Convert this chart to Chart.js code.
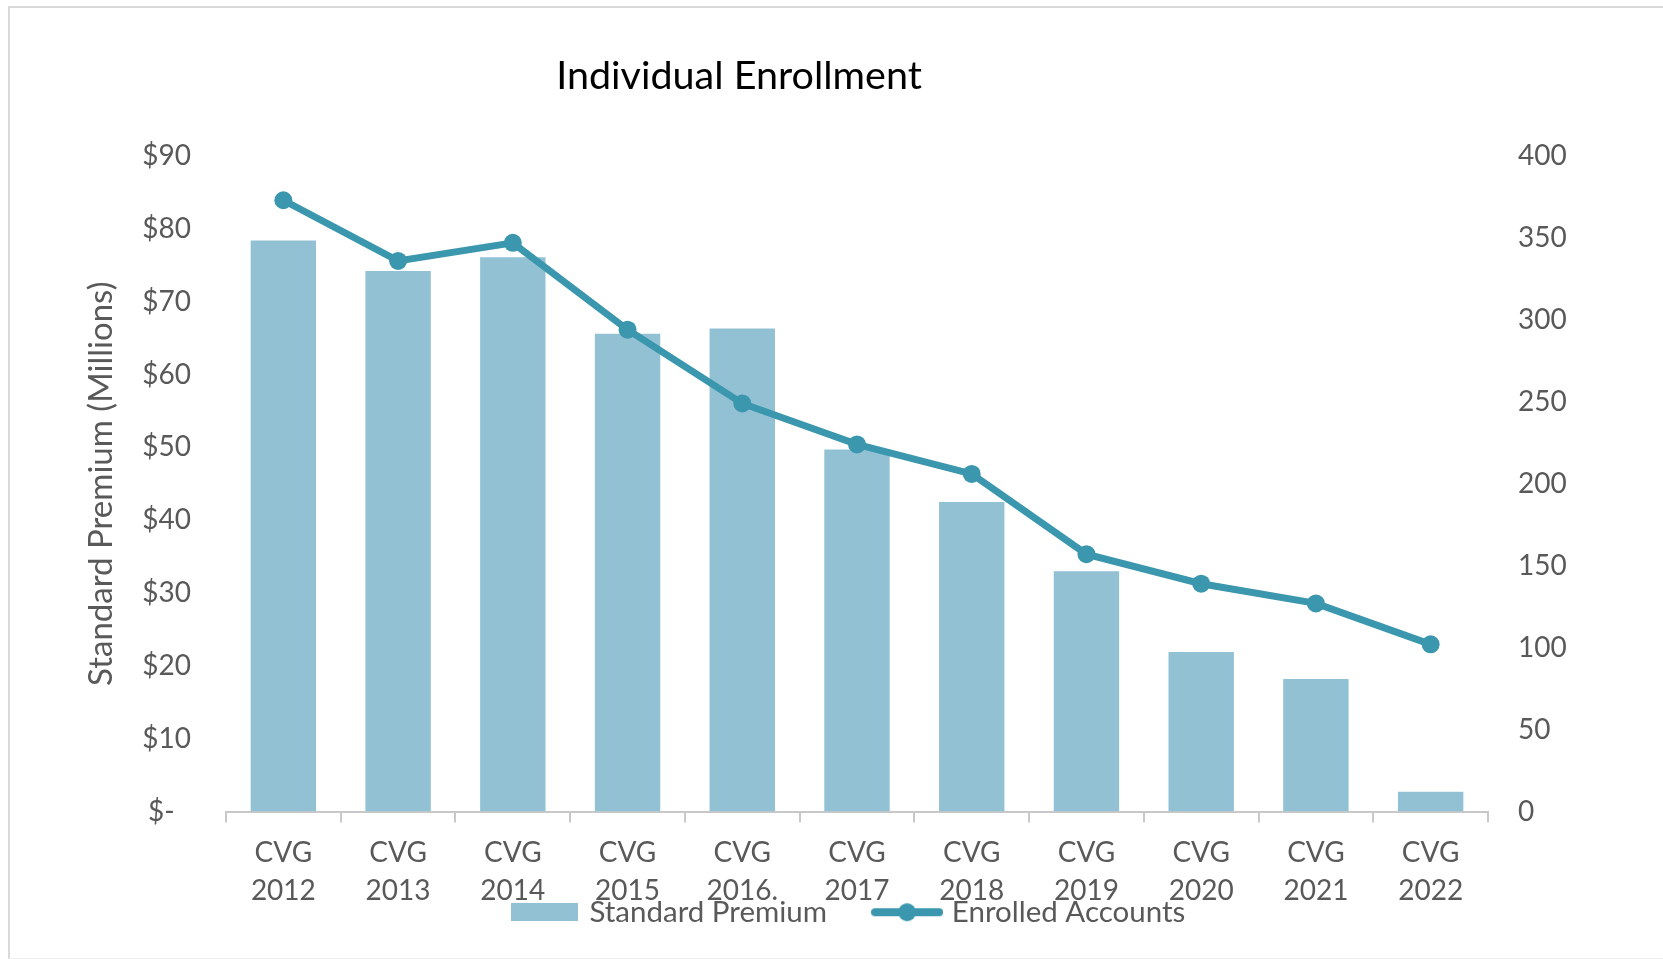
<!DOCTYPE html>
<html>
<head>
<meta charset="utf-8">
<title>Individual Enrollment</title>
<script src="https://cdn.jsdelivr.net/npm/chart.js@4.4.1/dist/chart.umd.min.js"></script>
<style>
  html, body { margin: 0; padding: 0; background: #fff; }
  #frame {
    position: absolute; left: 8px; top: 6px; width: 1700px; height: 950px;
    border-top: 2px solid #d9d9d9; border-left: 2px solid #d9d9d9; border-bottom: 1px solid #eeeeee;
  }
  #title {
    position: absolute; left: 439px; top: 51px; width: 600px; line-height: 46px;
    text-align: center; font-family: Lato, "Open Sans", sans-serif; font-size: 39.5px; color: #000;
    z-index: 2;
  }
  #wrap { position: absolute; left: 0; top: 0; width: 1663px; height: 959px; z-index: 1; }
</style>
</head>
<body>
<div id="frame"></div>
<div id="title">Individual Enrollment</div>
<div id="wrap"><canvas id="enrollChart"></canvas></div>
<script>
// chart values
var categories = [
    ['CVG', '2012'], ['CVG', '2013'], ['CVG', '2014'], ['CVG', '2015'], ['CVG', '2016.'],
    ['CVG', '2017'], ['CVG', '2018'], ['CVG', '2019'], ['CVG', '2020'], ['CVG', '2021'], ['CVG', '2022']
];
var standardPremium = [78.4, 74.2, 76.1, 65.6, 66.3, 49.7, 42.5, 33.0, 21.9, 18.2, 2.7];
var enrolledAccounts = [373, 336, 347, 294, 249, 224, 206, 157, 139, 127, 102];
var premiumTicks = [0, 10, 20, 30, 40, 50, 60, 70, 80, 90];
var accountTicks = [0, 50, 100, 150, 200, 250, 300, 350, 400];

var barColor = '#92c1d4';
var lineColor = '#3a97ae';
var textColor = '#595959';
var fontFamily = 'Lato, "Open Sans", sans-serif';

// legend swatches in the Excel style
function makeBarSwatch() {
    var c = document.createElement('canvas');
    c.width = 67; c.height = 18;
    var g = c.getContext('2d');
    g.fillStyle = barColor;
    g.fillRect(0, 0, 67, 18);
    return c;
}
function makeLineSwatch() {
    var c = document.createElement('canvas');
    c.width = 72; c.height = 20;
    var g = c.getContext('2d');
    g.strokeStyle = lineColor;
    g.lineWidth = 8;
    g.lineCap = 'round';
    g.beginPath();
    g.moveTo(4, 10); g.lineTo(68, 10);
    g.stroke();
    g.fillStyle = lineColor;
    g.beginPath();
    g.arc(36, 10, 9, 0, Math.PI * 2);
    g.fill();
    return c;
}
var swatches = [makeBarSwatch(), makeLineSwatch()];

// the x axis is squeezed so the legend overlaps its labels, like the original;
// stretch its box back down afterwards so the labels are not clipped
var unclipLabels = {
    id: 'unclipLabels',
    afterLayout: function (chart) {
        chart.scales.x.bottom = chart.height;
    }
};

document.addEventListener('DOMContentLoaded', function () {
    var ctx = document.getElementById('enrollChart').getContext('2d');
    new Chart(ctx, {
        type: 'bar',
        data: {
            labels: categories,
            datasets: [{
                type: 'bar',
                label: 'Standard Premium',
                data: standardPremium,
                backgroundColor: barColor,
                yAxisID: 'y',
                barPercentage: 0.57,
                categoryPercentage: 1.0,
                order: 2
            }, {
                type: 'line',
                label: 'Enrolled Accounts',
                data: enrolledAccounts,
                borderColor: lineColor,
                backgroundColor: lineColor,
                pointBackgroundColor: lineColor,
                pointBorderWidth: 0,
                pointRadius: 9,
                borderWidth: 7,
                tension: 0,
                yAxisID: 'y1',
                order: 1
            }]
        },
        plugins: [unclipLabels],
        options: {
            responsive: true,
            maintainAspectRatio: false,
            animation: false,
            layout: { padding: { left: 37, right: 0, top: 156, bottom: 22 } },
            plugins: {
                title: { display: false },
                tooltip: { enabled: false },
                legend: {
                    position: 'bottom',
                    labels: {
                        usePointStyle: true,
                        pointStyleWidth: 60,
                        padding: 50,
                        color: textColor,
                        font: { family: fontFamily, size: 29.5 },
                        generateLabels: function (chart) {
                            var items = Chart.defaults.plugins.legend.labels.generateLabels(chart);
                            items.sort(function (a, b) { return a.datasetIndex - b.datasetIndex; });
                            items.forEach(function (it) { it.pointStyle = swatches[it.datasetIndex]; });
                            return items;
                        }
                    }
                }
            },
            scales: {
                x: {
                    grid: {
                        display: true,
                        drawOnChartArea: false,
                        drawTicks: true,
                        tickLength: 11,
                        color: '#c8c8c8',
                        lineWidth: 2
                    },
                    border: { display: true, color: '#c8c8c8', width: 2 },
                    ticks: {
                        color: textColor,
                        padding: 11,
                        maxRotation: 0,
                        autoSkip: false,
                        font: { family: fontFamily, size: 28, lineHeight: 1.36 }
                    },
                    afterFit: function (scale) { scale.height = 36; }
                },
                y: {
                    position: 'left',
                    min: 0,
                    max: 90,
                    afterBuildTicks: function (scale) {
                        scale.ticks = premiumTicks.map(function (v) { return { value: v }; });
                    },
                    grid: { display: false, drawTicks: false },
                    border: { display: false },
                    ticks: {
                        color: textColor,
                        padding: 35,
                        font: { family: fontFamily, size: 28 },
                        callback: function (v) { return v === 0 ? '$-\u2007' : '$' + v; }
                    },
                    title: {
                        display: true,
                        text: 'Standard Premium (Millions)',
                        color: textColor,
                        padding: { top: 45, bottom: 0 },
                        font: { family: fontFamily, size: 33, lineHeight: 1.2 }
                    },
                    afterFit: function (scale) { scale.width = 189; }
                },
                y1: {
                    position: 'right',
                    min: 0,
                    max: 400,
                    afterBuildTicks: function (scale) {
                        scale.ticks = accountTicks.map(function (v) { return { value: v }; });
                    },
                    grid: { display: false, drawTicks: false },
                    border: { display: false },
                    ticks: {
                        color: textColor,
                        padding: 30,
                        font: { family: fontFamily, size: 28 }
                    },
                    afterFit: function (scale) { scale.width = 175; }
                }
            }
        }
    });
});
</script>
</body>
</html>
